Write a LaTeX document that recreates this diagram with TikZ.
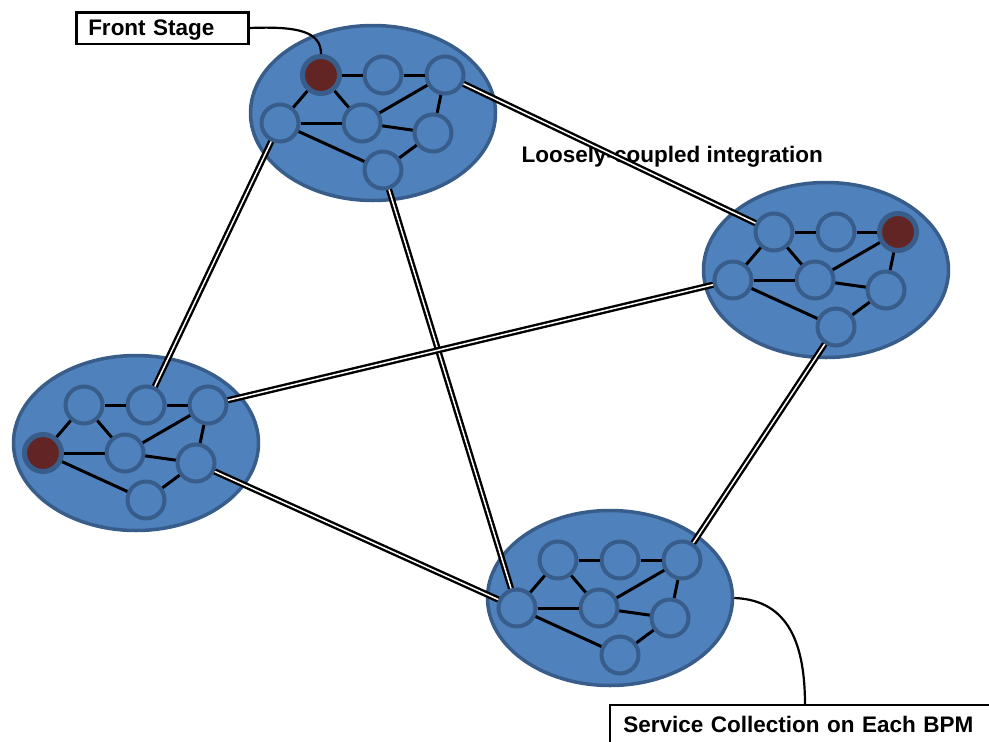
\documentclass[tikz,border=0pt]{standalone}
\usepackage{fontspec}
\setmainfont{Liberation Sans}
\usetikzlibrary{shapes.geometric}

\definecolor{bpmfill}{HTML}{4F81BD}
\definecolor{bpmedge}{HTML}{385D8A}
\definecolor{frontred}{HTML}{632523}

\tikzset{
	bpm/.style={ellipse, draw=bpmedge, line width=3.5pt, fill=bpmfill, minimum width=245pt, minimum height=175pt},
	svc/.style={circle, draw=bpmedge, line width=4pt, fill=bpmfill, minimum size=37pt, inner sep=0pt},
	front/.style={svc, fill=frontred, line width=5pt},
	wire/.style={line width=3pt},
	couple/.style={draw=black, double=white, line width=2.4pt, double distance=1.5pt},
	callout/.style={draw, line width=2.5pt, fill=white, anchor=north west, inner xsep=12pt, inner ysep=7pt,
		text height=16.5pt, text depth=1pt, align=left, font=\bfseries\fontsize{22.5}{26}\selectfont},
	hook/.style={line width=2.2pt}
}

\begin{document}
\begin{tikzpicture}[x=1pt,y=-1pt]
\useasboundingbox (0,0) rectangle (989,742);
\clip (0,0) rectangle (989,742);

% four BPM clusters, same service net in each
\foreach \bpm/\cx/\cy in {top/373/113, right/826/270, left/136/443, bottom/610/598}{
	\node[bpm] (\bpm) at (\cx,\cy) {};
	\foreach \svc/\dx/\dy in {tl/-52/-38, tm/10/-38, tr/72/-38, ml/-93/10, c/-11/10, mr/60/20, b/10/57}
		\node[svc] (\bpm-\svc) at (\cx+\dx,\cy+\dy) {};
	\foreach \p/\q in {tl/tm, tm/tr, tl/ml, tl/c, tr/c, tr/mr, ml/c, c/mr, ml/b, mr/b}
		\draw[wire] (\bpm-\p) -- (\bpm-\q);
}

\foreach \r in {top-tl, right-tr, left-ml}
	\node[front] (\r-red) at (\r) {};

\node[anchor=base west, font=\bfseries\fontsize{22.5}{26}\selectfont] (loose) at (518,162) {Loosely-coupled integration};

\foreach \p/\q in {top-tr/right-tl, top-ml/left-tm, top-b/bottom-ml, left-tr/right-ml, left-mr/bottom-ml, right-b/bottom-tr}
	\draw[couple] (\p) -- (\q);

% callouts
\node[callout, text width=148pt] (stage) at (75,11) {Front Stage};
\node[callout, draw=none, inner ysep=10pt, text width=420pt] (collect) at (610,705) {Service Collection on Each BPM};
\draw[line width=2.5pt] (collect.south west) -- (collect.north west) -- (collect.north east);

\draw[hook] (stage.east) .. controls +(50,-2) and +(0,-22) .. (top-tl-red.north);
\draw[hook] (bottom.east) .. controls +(55,2) and +(0,-60) .. ([xshift=195pt]collect.north west);

\end{tikzpicture}
\end{document}
